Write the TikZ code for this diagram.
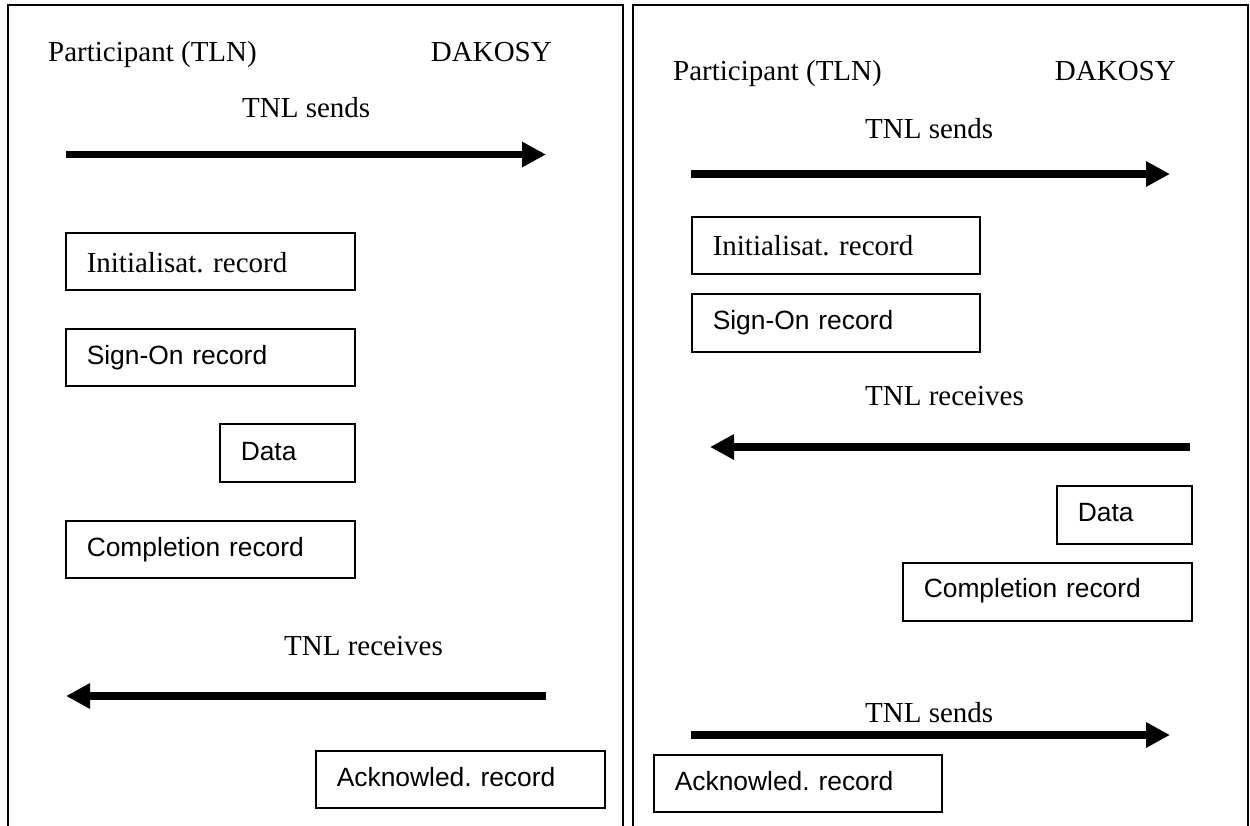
\documentclass[tikz,border=0pt]{standalone}
\usepackage{fontspec}
\setmainfont{Liberation Serif}
\newfontfamily\arialfont{Liberation Sans}
\usetikzlibrary{arrows.meta}
\frenchspacing
\tikzset{
  frame/.style={line width=2pt, line cap=rect},
  lbl/.style={inner sep=0pt, anchor=base west, font=\fontsize{29}{34}\selectfont},
  lble/.style={inner sep=0pt, anchor=base east, font=\fontsize{29}{34}\selectfont},
  recbox/.style={draw, line width=1.5pt, anchor=north west, inner ysep=0pt, inner xsep=21pt, align=left},
  serifbox/.style={recbox, font=\frenchspacing\fontsize{29}{34}\selectfont, text height=40pt, text depth=17pt},
  sansbox/.style={recbox, font=\frenchspacing\arialfont\fontsize{26.4}{31}\selectfont, text height=36pt, text depth=21pt}
}
\tikzset{
  bigarrow/.style={line width=7.5pt, -{Triangle[length=24pt,width=24pt]}}
}
\begin{document}
\begin{tikzpicture}[x=1pt, y=-1pt]
\useasboundingbox (0,0) rectangle (1250,825);
% frames
\draw[frame] (8,825) -- (8,5) -- (623,5) -- (623,825);
\draw[frame] (633,825) -- (633,5) -- (1248,5) -- (1248,825);

% ---------- left panel ----------
\node[lbl] (lpart) at (48,61) {Participant (TLN)};
\node[lble] (ldak) at (552,61) {DAKOSY};
\node[lbl] (lsend) at (242,117) {TNL sends};
\coordinate (la1s) at (66,154.5);
\coordinate (la1e) at (546,154.5);
\draw[bigarrow] (la1s) -- (la1e);

\node[serifbox, text width=247pt] (linit) at (65,232) {Initialisat. record};
\node[sansbox, text width=247pt] (lsign) at (65,328) {Sign-On record};
\node[sansbox, text width=93pt, text height=37pt, text depth=21pt] (ldata) at (219,423) {Data};
\node[sansbox, text width=247pt] (lcomp) at (65,520) {Completion record};

\node[lbl] (lrecv) at (284,655) {TNL receives};
\coordinate (la2s) at (546,696);
\coordinate (la2e) at (66,696);
\draw[bigarrow] (la2s) -- (la2e);

\node[sansbox, text width=247pt] (lack) at (315,750) {Acknowled. record};

% ---------- right panel ----------
\node[lbl] (rpart) at (673,80) {Participant (TLN)};
\node[lble] (rdak) at (1176,80) {DAKOSY};
\node[lbl] (rsend1) at (865,138) {TNL sends};
\coordinate (ra1s) at (691,174);
\coordinate (ra1e) at (1170,174);
\draw[bigarrow] (ra1s) -- (ra1e);

\node[serifbox, text width=246pt, text height=39pt, text depth=18pt] (rinit) at (691,216) {Initialisat. record};
\node[sansbox, text width=246pt, text height=36pt, text depth=22pt] (rsign) at (691,293) {Sign-On record};

\node[lbl] (rrecv) at (865,405) {TNL receives};
\coordinate (ra2s) at (1190,447);
\coordinate (ra2e) at (710,447);
\draw[bigarrow] (ra2s) -- (ra2e);

\node[sansbox, text width=93pt, text height=36pt, text depth=22pt] (rdata) at (1056,485) {Data};
\node[sansbox, text width=247pt, text height=35pt, text depth=23pt] (rcomp) at (902,562) {Completion record};

\node[lbl] (rsend2) at (865,722) {TNL sends};
\coordinate (ra3s) at (691,735);
\coordinate (ra3e) at (1170,735);
\draw[bigarrow] (ra3s) -- (ra3e);

\node[sansbox, text width=246pt] (rack) at (653,754) {Acknowled. record};
\end{tikzpicture}
\end{document}
